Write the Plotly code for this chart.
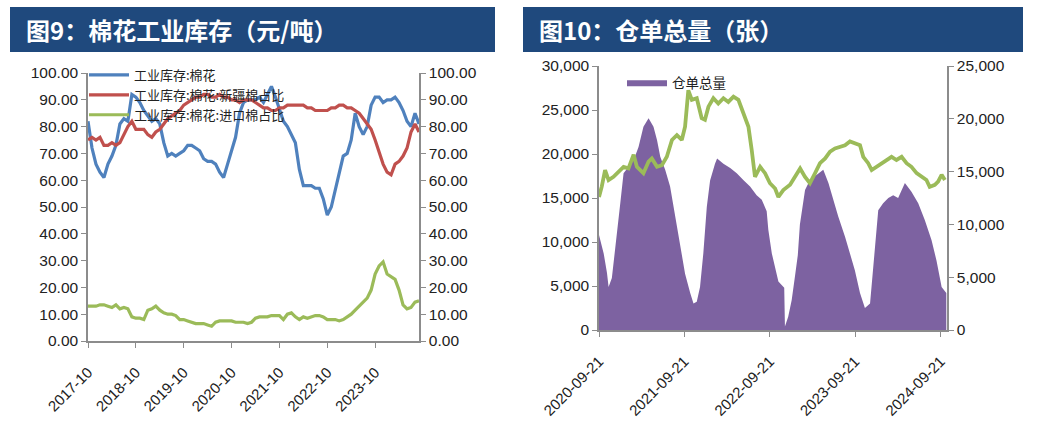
import plotly.graph_objects as go

W, H = 1042, 425

# ---------------- Left chart data (monthly, 2017-10 .. 2024-09) ----------------
months = []
y0, m0 = 2017, 10
for k in range(84):
    mm = (m0 - 1 + k) % 12 + 1
    yy = y0 + (m0 - 1 + k) // 12
    months.append(f"{yy}-{mm:02d}")

cotton_stock = [82, 72, 66, 63, 61, 66, 69, 73, 81, 83, 82, 92, 91, 89, 86, 84, 82, 83, 81, 74,
                69, 70, 69, 70, 71, 73, 73, 72, 71, 68, 67, 67, 66, 63, 61, 66, 71, 76, 85, 89,
                90, 90, 90, 91, 89, 92, 95, 91, 86, 82, 80, 77, 74, 64, 58, 58, 58, 57, 57, 53,
                47, 50, 56, 63, 69, 70, 75, 85, 80, 77, 80, 88, 91, 91, 89, 90, 90, 91, 89, 86,
                82, 80, 85, 81]
xinjiang_share = [75, 76, 75, 76, 73, 73, 74, 73, 74, 77, 80, 82, 79, 79, 79, 77, 76, 78, 79, 81,
                  83, 84, 85, 86, 88, 89, 90, 91, 91, 92, 92, 91, 91, 92, 91, 91, 90, 90, 89, 90,
                  90, 90, 89, 88, 87, 87, 86, 86, 87, 87, 88, 88, 88, 88, 88, 87, 87, 86, 86, 86,
                  86, 87, 87, 88, 88, 87, 87, 86, 85, 83, 81, 79, 75, 70, 66, 63, 62, 66, 67, 69,
                  72, 78, 81, 78]
import_share = [13, 13, 13, 13.5, 13.5, 13, 12.5, 13.5, 12, 12.5, 12, 9, 8.5, 8.5, 8, 11.5, 12, 13, 11.5, 10.5,
                10, 10, 9.5, 8, 8, 7.5, 7, 6.5, 6.5, 6.5, 6, 5.5, 7, 7.5, 7.5, 7.5, 7.5, 7, 7, 7,
                6.5, 7, 8.5, 9, 9, 9, 9.5, 9.5, 9.5, 8, 10, 10.5, 9, 8, 9, 8.5, 9, 9.5, 9.5, 9,
                8, 8, 8, 7.5, 8, 9, 10, 11.5, 13, 14.5, 16, 19, 25, 28, 29.5, 25, 24, 23, 19, 13.5,
                12, 12.5, 14.5, 15]
left_ticks = ["2017-10", "2018-10", "2019-10", "2020-10", "2021-10", "2022-10", "2023-10"]

# ---------------- Right chart data ----------------
receipt_dates = ["2020-09-21", "2020-10-11", "2020-10-25", "2020-11-01", "2020-11-15", "2020-11-29",
                 "2020-12-21", "2021-01-04", "2021-01-25", "2021-02-16", "2021-03-09", "2021-03-30",
                 "2021-04-21", "2021-05-12", "2021-05-27", "2021-06-10", "2021-07-01", "2021-07-22",
                 "2021-08-13", "2021-09-03", "2021-09-24", "2021-10-16", "2021-10-30", "2021-11-13",
                 "2021-11-27", "2021-12-11", "2021-12-26", "2022-01-09", "2022-01-30", "2022-02-04",
                 "2022-02-08", "2022-03-07", "2022-04-05", "2022-05-03", "2022-05-31", "2022-06-29",
                 "2022-07-27", "2022-08-18", "2022-09-08", "2022-09-15", "2022-09-30", "2022-10-14",
                 "2022-10-28", "2022-11-22", "2022-11-25", "2022-12-09", "2022-12-24", "2023-01-07",
                 "2023-01-19", "2023-01-24", "2023-01-28", "2023-02-05", "2023-02-19", "2023-03-12",
                 "2023-04-10", "2023-05-08", "2023-05-30", "2023-06-20", "2023-07-11", "2023-08-09",
                 "2023-08-30", "2023-09-20", "2023-10-12", "2023-11-02", "2023-11-24", "2023-12-15",
                 "2023-12-29", "2024-01-19", "2024-02-10", "2024-03-02", "2024-03-23", "2024-04-21",
                 "2024-05-19", "2024-06-17", "2024-07-15", "2024-08-13", "2024-09-03", "2024-09-25",
                 "2024-10-15"]
receipt_total = [10800, 8700, 6500, 4900, 5900, 9500,
                 14400, 17800, 18600, 19300, 20800, 23100,
                 24050, 23100, 21600, 19700, 18200, 16300,
                 12900, 9500, 6400, 4200, 3000, 3200,
                 4900, 8700, 14000, 17000, 18900, None,
                 19500, 18900, 18400, 17800, 17050, 16300,
                 15300, 14800, 13500, 11400, 8700, 7200,
                 5500, 4800, 400, 1500, 3400, 6100,
                 8500, None, 12000, 13500, 15900, 17050,
                 17600, 18200, 16700, 14800, 12900, 10600,
                 8700, 6800, 4200, 2500, 3000, 9500,
                 13600, 14400, 15000, 15300, 15000, 16700,
                 15700, 14400, 12500, 10200, 7900, 4900,
                 4200]

forecast_dates = ["2020-09-21", "2020-10-03", "2020-10-17", "2020-11-01", "2020-11-22", "2020-12-14",
                  "2021-01-04", "2021-01-25", "2021-02-16", "2021-03-02", "2021-03-16", "2021-03-30",
                  "2021-04-21", "2021-05-05", "2021-05-27", "2021-06-17", "2021-07-08", "2021-07-30",
                  "2021-08-20", "2021-09-10", "2021-09-24", "2021-10-02", "2021-10-08", "2021-10-23",
                  "2021-11-13", "2021-12-04", "2021-12-18", "2022-01-02", "2022-01-23", "2022-02-13",
                  "2022-03-07", "2022-03-28", "2022-04-19", "2022-05-10", "2022-05-31", "2022-06-22",
                  "2022-07-06", "2022-07-20", "2022-08-11", "2022-09-01", "2022-09-22", "2022-10-14",
                  "2022-10-28", "2022-11-18", "2022-12-17", "2023-01-07", "2023-01-29", "2023-02-19",
                  "2023-03-12", "2023-04-03", "2023-04-24", "2023-05-16", "2023-06-06", "2023-06-27",
                  "2023-07-18", "2023-08-09", "2023-08-30", "2023-09-20", "2023-10-12", "2023-10-26",
                  "2023-11-16", "2023-12-01", "2023-12-22", "2024-01-12", "2024-02-03", "2024-02-24",
                  "2024-03-16", "2024-04-07", "2024-04-28", "2024-05-19", "2024-06-10", "2024-07-01",
                  "2024-07-22", "2024-08-05", "2024-08-27", "2024-09-10", "2024-09-25", "2024-10-09"]
forecast_total = [12600, 13600, 15150, 14200, 14500, 15000,
                  15450, 15300, 16600, 15450, 15150, 14850,
                  15950, 16250, 15450, 15600, 16400, 18000,
                  18450, 18000, 19250, 21150, 22700, 21800,
                  21950, 20050, 19900, 21150, 21950, 21450,
                  21950, 21600, 22100, 21800, 20500, 19250,
                  17050, 14500, 15450, 14850, 13900, 13400,
                  12600, 13250, 13750, 14500, 15300, 14500,
                  13900, 14850, 15800, 16250, 16900, 17200,
                  17350, 17500, 17850, 17700, 17500, 16400,
                  15800, 15150, 15450, 15800, 16100, 16400,
                  16100, 16400, 15800, 15450, 14850, 14500,
                  14200, 13550, 13750, 14050, 14700, 14200]
right_ticks = ["2020-09-21", "2021-09-21", "2022-09-21", "2023-09-21", "2024-09-21"]

# ---------------- Styling ----------------
BLUE = "#4F81BD"
RED = "#C0504D"
GREEN = "#9BBB59"
PURPLE = "#7D62A1"
AXIS = "#8C8C8C"
NAVY = "#1F497D"
NUMFONT = "Liberation Sans, Arial, sans-serif"
CJK = "Noto Sans CJK SC, sans-serif"


def px_x(p):
    return p / W


def px_y(p):
    return (H - p) / H


fig = go.Figure()

fig.add_trace(go.Scatter(x=months, y=cotton_stock, mode="lines", name="工业库存:棉花",
                         line=dict(color=BLUE, width=3.2), xaxis="x", yaxis="y", legend="legend"))
fig.add_trace(go.Scatter(x=months, y=xinjiang_share, mode="lines", name="工业库存:棉花:新疆棉占比",
                         line=dict(color=RED, width=3.2), xaxis="x", yaxis="y", legend="legend"))
fig.add_trace(go.Scatter(x=months, y=import_share, mode="lines", name="工业库存:棉花:进口棉占比",
                         line=dict(color=GREEN, width=3.2), xaxis="x", yaxis="y2", legend="legend"))

fig.add_trace(go.Scatter(x=receipt_dates, y=receipt_total, mode="lines", name="仓单总量",
                         fill="tozeroy", fillcolor=PURPLE, line=dict(color=PURPLE, width=0),
                         connectgaps=False, xaxis="x2", yaxis="y3", legend="legend2"))
fig.add_trace(go.Scatter(x=forecast_dates, y=forecast_total, mode="lines", name="",
                         line=dict(color=GREEN, width=3.8), showlegend=False,
                         xaxis="x2", yaxis="y4"))

tickfont = dict(family=NUMFONT, size=15.5, color="#222222")
common_axis = dict(showline=True, linecolor=AXIS, linewidth=1.5, ticks="outside", ticklen=5,
                   tickcolor=AXIS, tickwidth=1.2, showgrid=False, zeroline=False, tickfont=tickfont,
                   automargin=False)

left_dom_x = [px_x(88), px_x(419)]
left_dom_y = [px_y(341), px_y(73)]
right_dom_x = [px_x(599), px_x(947)]
right_dom_y = [px_y(330), px_y(66)]

fig.update_layout(
    template="none",
    width=W, height=H, margin=dict(l=0, r=0, t=0, b=0, autoexpand=False),
    paper_bgcolor="white", plot_bgcolor="white",
    xaxis=dict(common_axis, domain=left_dom_x, anchor="y", type="category",
               range=[0, 83], tickmode="array", tickvals=left_ticks, ticktext=left_ticks,
               tickangle=-45, ticklabelstandoff=10, tickfont=dict(family=NUMFONT, size=15, color="#222222")),
    yaxis=dict(common_axis, domain=left_dom_y, anchor="x", range=[0, 100], dtick=10,
               tickformat=".2f"),
    yaxis2=dict(common_axis, overlaying="y", anchor="x", side="right", range=[0, 100],
                dtick=10, tickformat=".2f"),
    xaxis2=dict(common_axis, domain=right_dom_x, anchor="y3", type="date",
                range=["2020-09-21", "2024-10-18"], tickmode="array", tickvals=right_ticks,
                ticktext=right_ticks, tickangle=-45, ticklabelstandoff=10,
                tickfont=dict(family=NUMFONT, size=15, color="#222222")),
    yaxis3=dict(common_axis, domain=right_dom_y, anchor="x2", range=[0, 30000], dtick=5000,
                tickformat=",d"),
    yaxis4=dict(common_axis, overlaying="y3", anchor="x2", side="right", range=[0, 25000],
                dtick=5000, tickformat=",d"),
    legend=dict(x=px_x(84), y=px_y(60), xanchor="left", yanchor="top",
                bgcolor="rgba(0,0,0,0)", font=dict(family=CJK, size=13, color="#222222"),
                tracegroupgap=0, itemwidth=40),
    legend2=dict(x=px_x(622), y=px_y(67), xanchor="left", yanchor="top",
                 bgcolor="rgba(0,0,0,0)", font=dict(family=CJK, size=13.5, color="#222222"),
                 itemwidth=40),
    shapes=[
        dict(type="rect", xref="paper", yref="paper", x0=px_x(10), x1=px_x(495),
             y0=px_y(52), y1=px_y(7), fillcolor=NAVY, line=dict(width=0), layer="below"),
        dict(type="rect", xref="paper", yref="paper", x0=px_x(523), x1=px_x(1023),
             y0=px_y(52), y1=px_y(7), fillcolor=NAVY, line=dict(width=0), layer="below"),
    ],
    annotations=[
        dict(text="<b>图9：棉花工业库存（元/吨）</b>", xref="paper", yref="paper",
             x=px_x(24), y=px_y(30), xanchor="left", yanchor="middle", showarrow=False,
             font=dict(family=CJK, size=24, color="white")),
        dict(text="<b>图10：仓单总量（张）</b>", xref="paper", yref="paper",
             x=px_x(537), y=px_y(30), xanchor="left", yanchor="middle", showarrow=False,
             font=dict(family=CJK, size=24, color="white")),
    ],
)

fig.write_html("out.html")
